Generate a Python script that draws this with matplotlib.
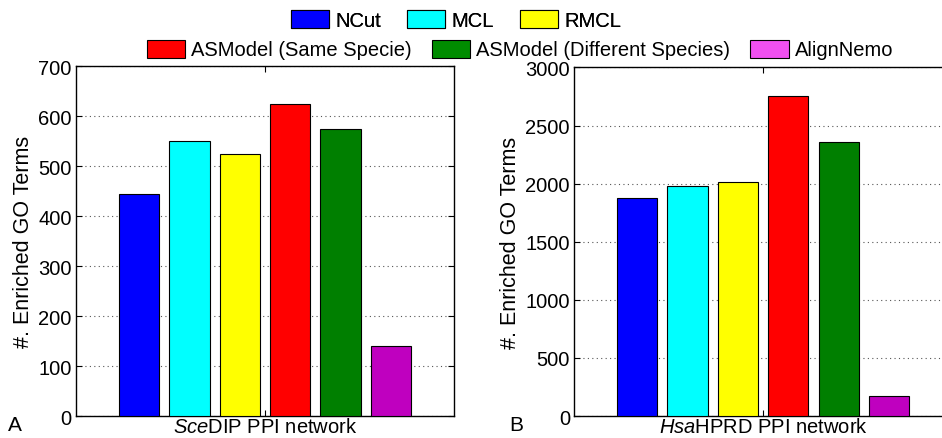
import matplotlib.pyplot as plt
import numpy as np
from matplotlib.patches import Patch

plt.rcParams['font.family'] = ['Liberation Sans', 'DejaVu Sans']
plt.rcParams['mathtext.fontset'] = 'custom'
plt.rcParams['mathtext.it'] = 'Liberation Sans:italic'
plt.rcParams['mathtext.rm'] = 'Liberation Sans'

methods = ['NCut', 'MCL', 'RMCL', 'ASModel (Same Specie)',
           'ASModel (Different Species)', 'AlignNemo']
bar_colors = ['#0000ff', '#00ffff', '#ffff00', '#ff0000', '#007f00', '#bf00bf']
legend_colors = ['#0000ff', '#00ffff', '#ffff00', '#ff0000', '#008c00', '#f050f0']

sce_terms = [445, 550, 525, 625, 575, 140]
hsa_terms = [1880, 1980, 2015, 2750, 2355, 170]

sce_ticks = [0, 100, 200, 300, 400, 500, 600, 700]
hsa_ticks = [0, 500, 1000, 1500, 2000, 2500, 3000]

fig = plt.figure(figsize=(9.42, 4.39), dpi=100)

# grouped bars, matlab-style: group width 0.8 around x=1
n = len(methods)
step = 0.8 / n
offsets = 1 + (np.arange(n) - (n - 1) / 2) * step


def panel(rect, values, yticks, xlabel, letter, letter_x):
    ax = fig.add_axes(rect)
    ax.bar(offsets, values, width=step * 0.8, color=bar_colors,
           edgecolor='black', linewidth=0.8, zorder=3)
    ax.set_xlim(0.5, 1.5)
    ax.set_ylim(yticks[0], yticks[-1])
    ax.set_yticks(yticks)
    ax.set_xticks([1])
    ax.set_xticklabels([xlabel])
    ax.tick_params(axis='both', direction='in', labelsize=14.5,
                   top=True, right=True, length=4)
    ax.tick_params(axis='x', pad=1)
    ax.tick_params(axis='y', pad=3)
    ax.yaxis.grid(True, linestyle=(0, (1, 3)), color='#555555',
                  linewidth=0.8, zorder=0)
    ax.set_ylabel('#. Enriched GO Terms', fontsize=15.5, labelpad=3)
    for s in ax.spines.values():
        s.set_linewidth(1.0)
    fig.text(letter_x, 0.008, letter, fontsize=15, ha='left', va='bottom')
    return ax


panel([0.0807, 0.0501, 0.4013, 0.797], sce_terms, sce_ticks,
      r'$\it{Sce}$DIP PPI network', 'A', 0.008)
panel([0.6094, 0.0501, 0.4013, 0.794], hsa_terms, hsa_ticks,
      r'$\it{Hsa}$HPRD PPI network', 'B', 0.541)

handles = [Patch(facecolor=c, edgecolor='black', linewidth=0.8)
           for c in legend_colors]

leg_kw = dict(loc='center', ncol=3, frameon=False, fontsize=14.5,
              handlelength=1.9, handleheight=1.0, handletextpad=0.3,
              borderpad=0)
leg1 = fig.legend(handles[:3], methods[:3], bbox_to_anchor=(0.484, 0.953),
                  columnspacing=1.3, **leg_kw)
fig.add_artist(leg1)
fig.legend(handles[3:], methods[3:], bbox_to_anchor=(0.552, 0.885),
           columnspacing=1.0, **leg_kw)

fig.savefig('out.png', dpi=100)
